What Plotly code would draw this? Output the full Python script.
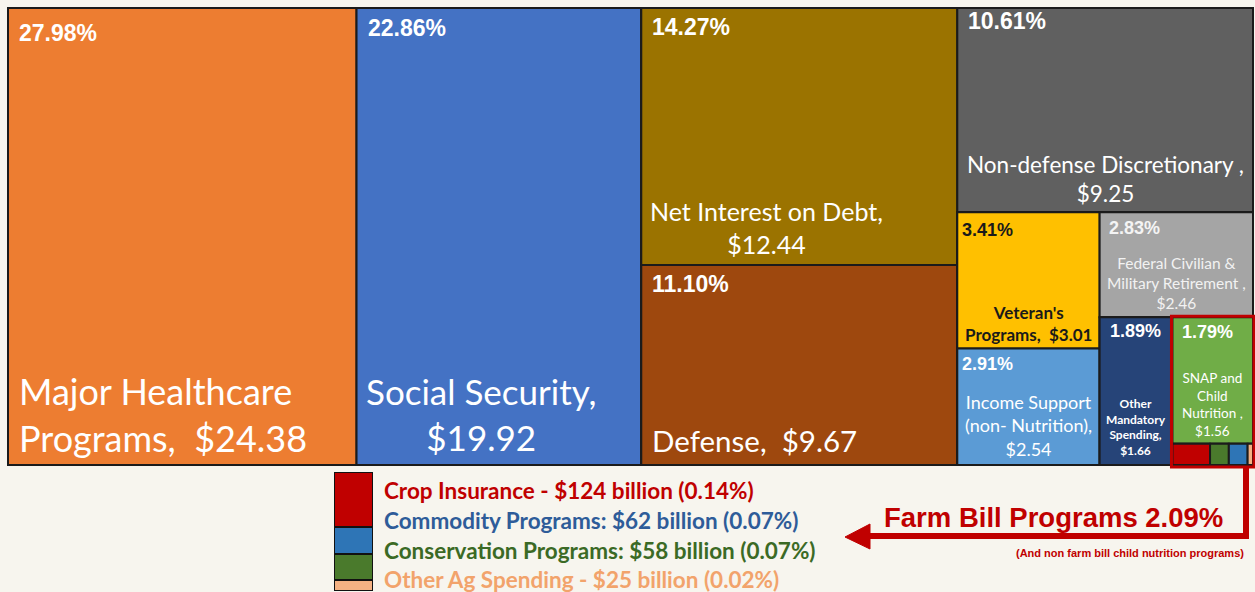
import plotly.graph_objects as go

# ---------------- data ----------------
keys = ["health", "ss", "interest", "defense", "nondef", "veteran", "income",
        "federal", "othermand", "snap", "crop", "conserv", "commod", "otherag"]
categories = ["Major Healthcare Programs", "Social Security", "Net Interest on Debt",
              "Defense", "Non-defense Discretionary", "Veteran's Programs",
              "Income Support (non- Nutrition)", "Federal Civilian & Military Retirement",
              "Other Mandatory Spending", "SNAP and Child Nutrition", "Crop Insurance",
              "Conservation Programs", "Commodity Programs", "Other Ag Spending"]
share_pct = [27.98, 22.86, 14.27, 11.10, 10.61, 3.41, 2.91, 2.83, 1.89, 1.79,
             0.14, 0.07, 0.07, 0.02]
spend_trillions = [24.38, 19.92, 12.44, 9.67, 9.25, 3.01, 2.54, 2.46, 1.66, 1.56,
                   None, None, None, None]

# cell label text (as printed in each cell)
cell_labels = {
    "health": "Major Healthcare<br>Programs,  $24.38",
    "ss": "Social Security,<br>$19.92",
    "interest": "Net Interest on Debt,<br>$12.44",
    "defense": "Defense,  $9.67",
    "nondef": "Non-defense Discretionary ,<br>$9.25",
    "veteran": "Veteran's<br>Programs,  $3.01",
    "income": "Income Support<br>(non- Nutrition),<br>$2.54",
    "federal": "Federal Civilian &<br>Military Retirement ,<br>$2.46",
    "othermand": "Other<br>Mandatory<br>Spending,<br>$1.66",
    "snap": "SNAP and<br>Child<br>Nutrition ,<br>$1.56",
}

farm_items = ["Crop Insurance", "Commodity Programs", "Conservation Programs", "Other Ag Spending"]
farm_billions = [124, 62, 58, 25]
farm_pct = [0.14, 0.07, 0.07, 0.02]
farm_sep = [" - ", ": ", ": ", " - "]
farm_bill_total_pct = 2.09

# hierarchy (groups that produce the slice/dice layout)
children = {
    "Total": ["health", "ss", "col3", "col4"],
    "col3": ["interest", "defense"],
    "col4": ["nondef", "lower"],
    "lower": ["left", "right"],
    "left": ["veteran", "income"],
    "right": ["federal", "bottom"],
    "bottom": ["othermand", "farm"],
    "farm": ["snap", "bits"],
    "bits": ["crop", "conserv", "commod", "otherag"],
}

# ---------------- style ----------------
colors = {
    "health": "#ED7D31", "ss": "#4472C4", "interest": "#9B7300", "defense": "#9E480E",
    "nondef": "#606060", "veteran": "#FFC000", "income": "#5B9BD5", "federal": "#A5A5A5",
    "othermand": "#264478", "snap": "#70AD47", "crop": "#C00000", "conserv": "#4A7A2C",
    "commod": "#2E75B6", "otherag": "#F4B183",
}
farm_colors = {"Crop Insurance": "#C00000", "Commodity Programs": "#2E75B6",
               "Conservation Programs": "#4A7A2C", "Other Ag Spending": "#F4B183"}
farm_text_colors = ["#C00000", "#2E5C99", "#3B6A25", "#F2A36B"]
BG = "#F7F5EE"

W_PAGE, H_PAGE = 1255, 592
TX0, TY0, TW, TH = 8, 8, 1245, 457   # treemap area in page pixels


def px(x):
    return x / W_PAGE


def py(y):
    return 1 - y / H_PAGE


val = dict(zip(keys, share_pct))
name = dict(zip(keys, categories))


def total(k):
    if k in children:
        return sum(total(c) for c in children[k])
    return val[k]


# DFS ordering of nodes for the treemap
ids, parents, labels, values, mcolors = [], [], [], [], []


def walk(k, parent):
    ids.append(k)
    parents.append(parent)
    labels.append(name.get(k, k))
    values.append(val.get(k, 0))
    mcolors.append(colors.get(k, "#222222"))
    for c in children.get(k, []):
        walk(c, k)


walk("Total", "")

# replicate slice-dice tiling to know where each cell lands (for text placement)
rects = {}


def tile(k, x0, y0, x1, y1, depth):
    rects[k] = (x0, y0, x1, y1)
    if k not in children:
        return
    t = total(k)
    if depth % 2 == 0:
        x = x0
        for c in children[k]:
            w = (x1 - x0) * total(c) / t
            tile(c, x, y0, x + w, y1, depth + 1)
            x += w
    else:
        y = y0
        for c in children[k]:
            h = (y1 - y0) * total(c) / t
            tile(c, x0, y, x1, y + h, depth + 1)
            y += h


tile("Total", TX0, TY0, TX0 + TW, TY0 + TH, 0)

fig = go.Figure()
fig.add_trace(go.Treemap(
    ids=ids, parents=parents, labels=labels, values=values,
    branchvalues="remainder", sort=False,
    tiling=dict(packing="slice-dice", pad=0),
    marker=dict(colors=mcolors, line=dict(color="#1b1b1b", width=2),
                pad=dict(t=0, l=0, r=0, b=0)),
    pathbar=dict(visible=False),
    textinfo="none", hoverinfo="label+value",
    domain=dict(x=[px(TX0), px(TX0 + TW)], y=[py(TY0 + TH), py(TY0)]),
))

# percentage labels: (dx, dy, size, color)
pct_style = {
    "health": (9, 25, 23, "white"), "ss": (9, 20, 23, "white"),
    "interest": (9, 19, 23, "white"), "defense": (9, 19, 23, "white"),
    "nondef": (9, 13, 23, "white"), "veteran": (3, 18, 18, "#1a1a1a"),
    "income": (3, 15, 18, "white"), "federal": (7, 16, 18, "#f4f4f4"),
    "othermand": (8, 14, 18, "white"), "snap": (8, 15, 18, "white"),
}
for k, (dx, dy, sz, col) in pct_style.items():
    x0, y0, x1, y1 = rects[k]
    fig.add_annotation(x=px(x0 + dx), y=py(y0 + dy), xref="paper", yref="paper",
                       xanchor="left", yanchor="middle", showarrow=False,
                       text=f"<b>{val[k]:.2f}%</b>",
                       font=dict(family="Liberation Sans, Arial", size=sz, color=col))

# name labels: (align, dx, dy_from_bottom, size, color, bold)
lab_style = {
    "health": ("left", 9, -51, 36, "white", False),
    "ss": ("center", -18, -51, 35, "white", False),
    "interest": ("center", -33, -38, 25, "white", False),
    "defense": ("left", 9, -25, 29.5, "white", False),
    "nondef": ("center", 0, -33, 22.5, "white", False),
    "veteran": ("center", 0, -25, 17, "#1a1a1a", True),
    "income": ("center", 0, -40, 18, "white", False),
    "federal": ("center", 0, -34, 15.5, "#f2f2f2", False),
    "othermand": ("center", 0, -38, 12, "white", True),
    "snap": ("center", 0, -39, 13.5, "white", False),
}
for k, (al, dx, dyb, sz, col, bold) in lab_style.items():
    x0, y0, x1, y1 = rects[k]
    if al == "left":
        xx, xa = x0 + dx, "left"
    else:
        xx, xa = (x0 + x1) / 2 + dx, "center"
    txt = cell_labels[k]
    if bold:
        txt = "<b>" + txt.replace("<br>", "</b><br><b>") + "</b>"
    fig.add_annotation(x=px(xx), y=py(y1 + dyb), xref="paper", yref="paper",
                       xanchor=xa, yanchor="middle", align=al, showarrow=False,
                       text=txt,
                       font=dict(family="Lato", size=sz, color=col))

# red frame around farm bill cells
fx0, fy0, fx1, fy1 = rects["farm"]
fig.add_shape(type="rect", xref="paper", yref="paper",
              x0=px(fx0 - 1), x1=px(fx1 + 1), y0=py(fy1 + 2), y1=py(fy0 - 1),
              line=dict(color="#C00000", width=3))

# arrow
RED = "#C00000"
fig.add_shape(type="line", xref="paper", yref="paper", x0=px(1246), x1=px(1246),
              y0=py(467), y1=py(539), line=dict(color=RED, width=6))
fig.add_shape(type="line", xref="paper", yref="paper", x0=px(1249), x1=px(862),
              y0=py(536), y1=py(536), line=dict(color=RED, width=6))
fig.add_shape(type="path", xref="paper", yref="paper",
              path=f"M {px(845)},{py(537)} L {px(870)},{py(524)} L {px(870)},{py(549)} Z",
              fillcolor=RED, line=dict(color=RED, width=1))

fig.add_annotation(x=px(1053), y=py(517), xref="paper", yref="paper", showarrow=False,
                   xanchor="center", yanchor="middle",
                   text=f"<b>Farm Bill Programs {farm_bill_total_pct:.2f}%</b>",
                   font=dict(family="Liberation Sans, Arial", size=27.5, color=RED))
fig.add_annotation(x=px(1246), y=py(553), xref="paper", yref="paper", showarrow=False,
                   xanchor="right", yanchor="middle",
                   text="<b>(And non farm bill child nutrition programs)</b>",
                   font=dict(family="Liberation Sans, Arial", size=11, color=RED))

# mini stacked bar legend glyph (bottom-up order)
for item, b in reversed(list(zip(farm_items, farm_billions))):
    fig.add_trace(go.Bar(x=["farm"], y=[b], marker=dict(color=farm_colors[item],
                         line=dict(color="#111111", width=2)),
                         xaxis="x2", yaxis="y2", showlegend=False, hoverinfo="skip"))

# legend text lines
legend_y = [490, 520, 550, 579]
for item, sep, b, p, col, yy in zip(farm_items, farm_sep, farm_billions, farm_pct,
                                     farm_text_colors, legend_y):
    fig.add_annotation(x=px(382), y=py(yy), xref="paper", yref="paper", showarrow=False,
                       xanchor="left", yanchor="middle",
                       text=f"<b>{item}{sep}${b} billion ({p:.2f}%)</b>",
                       font=dict(family="Lato", size=22.5, color=col))

fig.update_layout(
    width=W_PAGE, height=H_PAGE,
    margin=dict(l=0, r=0, t=0, b=0),
    paper_bgcolor=BG, plot_bgcolor="rgba(0,0,0,0)",
    barmode="stack", bargap=0,
    xaxis2=dict(domain=[px(334), px(373)], anchor="y2", visible=False, fixedrange=True),
    yaxis2=dict(domain=[py(591), py(472)], anchor="x2", visible=False,
                range=[0, sum(farm_billions)], fixedrange=True),
    xaxis=dict(visible=False), yaxis=dict(visible=False),
    showlegend=False,
)

fig.write_html(
    "out.html",
    config={"displayModeBar": False},
    post_script=("document.body.style.margin='0';"
                 "document.body.style.overflow='hidden';"
                 f"document.body.style.background='{BG}';"),
)
